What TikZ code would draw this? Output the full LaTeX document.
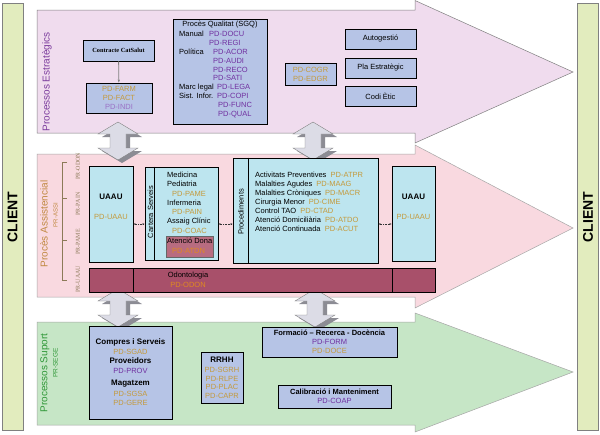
\documentclass[tikz,border=0pt]{standalone}
\usepackage{fontspec}
\setmainfont{Liberation Sans}
\setsansfont{Liberation Sans}
\newfontfamily\serifft{Liberation Serif}
\usetikzlibrary{arrows.meta,calc}
\definecolor{clientg}{HTML}{E2ECBE}
\definecolor{strat}{HTML}{F0DCEE}
\definecolor{assist}{HTML}{F9D9E0}
\definecolor{suport}{HTML}{C6E6C6}
\definecolor{bbox}{HTML}{B6C4E6}
\definecolor{cbox}{HTML}{BDE5EF}
\definecolor{maroonf}{HTML}{A8506A}
\definecolor{donaf}{HTML}{B86C80}
\definecolor{gold}{HTML}{C49A3C}
\definecolor{purp}{HTML}{7030A0}
\definecolor{lpurp}{HTML}{9A72C6}
\definecolor{orng}{HTML}{E08A20}
\definecolor{stxt}{HTML}{7A3A9C}
\definecolor{atxt}{HTML}{C08840}
\definecolor{gtxt}{HTML}{309838}
\definecolor{prtxt}{HTML}{8C7A58}
\definecolor{arrf}{HTML}{DCDCE6}
\definecolor{arrs}{HTML}{8C8C94}
\newcommand\tg[1]{\textcolor{gold}{#1}}
\newcommand\tp[1]{\textcolor{purp}{#1}}
\begin{document}
\begin{tikzpicture}[x=1pt,y=-1pt,
  every node/.style={inner sep=0pt, font=\fontsize{7.5}{9}\selectfont},
  blk/.style={draw=black, line width=0.9pt},
  bb/.style={blk, fill=bbox, align=center},
  cb/.style={blk, fill=cbox},
  big/.style={font=\fontsize{10}{12}\selectfont, rotate=90},
  prl/.style={font=\serifft\fontsize{6}{6}\selectfont, text=prtxt, rotate=90},
  bld/.style={font=\bfseries\fontsize{8}{9}\selectfont},
  link/.style={densely dotted, line width=0.6pt, black!80, {Stealth[length=2.2pt]}-{Stealth[length=2.2pt]}},
  dblarrow/.pic={
    \fill[arrs, shift={(4,3)}] (0,-19) -- (20,-7) -- (8,-7) -- (8,7) -- (20,7) -- (0,19) -- (-20,7) -- (-8,7) -- (-8,-7) -- (-20,-7) -- cycle;
    \filldraw[fill=arrf, draw=gray, line width=0.4pt] (0,-19) -- (20,-7) -- (8,-7) -- (8,7) -- (20,7) -- (0,19) -- (-20,7) -- (-8,7) -- (-8,-7) -- (-20,-7) -- cycle;
  }]
\useasboundingbox (0,0) rectangle (600,434);
\fill[white] (0,0) rectangle (600,434);

% CLIENT bars
\node[draw=gray, fill=clientg, minimum width=21pt, minimum height=427pt] (clL) at (12.5,216.5) {};
\node[draw=gray, fill=clientg, minimum width=21pt, minimum height=427pt] (clR) at (587.5,216.5) {};
\node[font=\bfseries\fontsize{14}{16}\selectfont, rotate=90] (clLt) at (12.5,217) {CLIENT};
\node[font=\bfseries\fontsize{14}{16}\selectfont, rotate=90] (clRt) at (588,217) {CLIENT};

% big arrows
\filldraw[fill=strat, draw=gray, line width=0.5pt] (37,10) -- (415,10) -- (415,0.5) -- (573,72) -- (415,143) -- (415,133) -- (37,133) -- cycle;
\filldraw[fill=assist, draw=gray!70, line width=0.5pt] (37,154) -- (415,154) -- (415,145) -- (573,228) -- (415,308) -- (415,297) -- (37,297) -- cycle;
\filldraw[fill=suport, draw=gray!70, line width=0.5pt] (37,322) -- (415,322) -- (415,313) -- (573,372) -- (415,432) -- (415,425) -- (37,425) -- cycle;

% side labels
\node[big, text=stxt] (lst) at (47,82) {Processos Estratègics};
\node[big, text=atxt] (las) at (44,224) {Procès Assistencial};
\node[font=\fontsize{6}{7}\selectfont, rotate=90, text=atxt] (lassi) at (55.5,215) {PR-ASSI};
\node[big, text=gtxt] (lsu) at (45,373) {Processos Suport};
\node[font=\fontsize{6.5}{7}\selectfont, rotate=90, text=gtxt] (lsege) at (55.5,363) {PR-SEGE};

% PR bracket
\draw[prtxt, line width=0.4pt] (67,162) -- (62,162) -- (62,280) -- (67,280)
  (62,198) -- (67,198) (62,240) -- (67,240);
\node[prl] (pr1) at (78,166) {PR-ODON};
\node[prl] (pr2) at (78,204) {PR-PAIN};
\node[prl] (pr3) at (78,242) {PR-PAME};
\node[prl] (pr4) at (78,279) {PR-UAAU};

% double arrows
\pic at (118,141) {dblarrow};
\pic at (313,141) {dblarrow};
\pic at (118,308) {dblarrow};
\pic at (315,308) {dblarrow};

% ---------- Strategic ----------
\node[bb, minimum width=71pt, minimum height=21pt, font=\serifft\bfseries\fontsize{6.3}{7}\selectfont] (contract) at (118.5,50.5) {Contracte CatSalut};
\node[bb, minimum width=66pt, minimum height=30pt] (farm) at (119,98) {\tg{PD-FARM}\\\tg{PD-FACT}\\\textcolor{lpurp}{PD-INDI}};
\draw[gray, line width=0.8pt, -{Stealth[length=3pt]}] (contract) -- (farm);

\node[bb, minimum width=94pt, minimum height=105pt] (sgq) at (220,71.5) {};
\node (sgqt) at (220,25) {Procès Qualitat (SGQ)};
\node[anchor=mid west] (m1) at (179,34) {Manual};
\node[anchor=mid west] (m2) at (179,52) {Política};
\node[anchor=mid west] (m3) at (179,87) {Marc legal};
\node[anchor=mid west] (m4) at (179,96) {Sist. Infor.};
\node[anchor=mid west] (c1) at (209,34) {\tp{PD-DOCU}};
\node[anchor=mid west] (c2) at (209,43) {\tp{PD-REGI}};
\node[anchor=mid west] (c3) at (213,52) {\tp{PD-ACOR}};
\node[anchor=mid west] (c4) at (213,60.5) {\tp{PD-AUDI}};
\node[anchor=mid west] (c5) at (213,69.5) {\tp{PD-RECO}};
\node[anchor=mid west] (c6) at (213,78) {\tp{PD-SATI}};
\node[anchor=mid west] (c7) at (217,87) {\tp{PD-LEGA}};
\node[anchor=mid west] (c8) at (217,96) {\tp{PD-COPI}};
\node[anchor=mid west] (c9) at (218,105) {\tp{PD-FUNC}};
\node[anchor=mid west] (c10) at (218,114) {\tp{PD-QUAL}};

\node[bb, minimum width=51pt, minimum height=22pt] (cogr) at (310.5,74) {\tg{PD-COGR}\\\tg{PD-EDGR}};
\node[bb, minimum width=71pt, minimum height=20pt] (auto) at (380.5,39) {Autogestió};
\node[bb, minimum width=71pt, minimum height=20pt] (pla) at (380.5,68) {Pla Estratègic};
\node[bb, minimum width=71pt, minimum height=20pt] (codi) at (380.5,96) {Codi Ètic};

% ---------- Assistencial ----------
\node[cb, minimum width=44pt, minimum height=96pt] (uaauL) at (111,214) {};
\node[bld] (uaauLt) at (111,197) {UAAU};
\node (uaauLc) at (111,217) {\tg{PD-UAAU}};

\node[cb, minimum width=73pt, minimum height=93pt] (cartera) at (181.5,213.5) {};
\draw[blk] ($(cartera.north west)+(10,0)$) -- ($(cartera.south west)+(10,0)$);
\node[rotate=90] (cartt) at (150.5,212) {Cartera Serveis};
\node[fill=donaf, draw=black!60, line width=0.4pt, minimum width=47pt, minimum height=21pt] (dona) at (189.5,246.5) {};
\node[anchor=mid west] (k1) at (167,175) {Medicina};
\node[anchor=mid west] (k2) at (167,184) {Pediatria};
\node[anchor=mid west] (k3) at (172,193.5) {\tg{PD-PAME}};
\node[anchor=mid west] (k4) at (167,203) {Infermeria};
\node[anchor=mid west] (k5) at (172,212) {\tg{PD-PAIN}};
\node[anchor=mid west] (k6) at (167,221) {Assaig Clínic};
\node[anchor=mid west] (k7) at (172,230.5) {\tg{PD-COAC}};
\node[anchor=mid west] (k8) at (167,241) {Atenció Dona};
\node[anchor=mid west] (k9) at (172,251) {\textcolor{orng}{PD-ATDN}};

\node[cb, minimum width=145pt, minimum height=105pt] (procs) at (305.5,210.5) {};
\draw[blk] ($(procs.north west)+(16,0)$) -- ($(procs.south west)+(16,0)$);
\node[rotate=90] (proct) at (241,212) {Procediments};
\node[anchor=mid west] (p1) at (255,175) {Activitats Preventives~ \tg{PD-ATPR}};
\node[anchor=mid west] (p2) at (255,184) {Malalties Agudes~ \tg{PD-MAAG}};
\node[anchor=mid west] (p3) at (255,193) {Malalties Cròniques~ \tg{PD-MACR}};
\node[anchor=mid west] (p4) at (255,202) {Cirurgia Menor~ \tg{PD-CIME}};
\node[anchor=mid west] (p5) at (255,211) {Control TAO~ \tg{PD-CTAD}};
\node[anchor=mid west] (p6) at (255,220) {Atenció Domiciliària~ \tg{PD-ATDO}};
\node[anchor=mid west] (p7) at (255,229) {Atenció Continuada~ \tg{PD-ACUT}};

\node[cb, minimum width=43pt, minimum height=95pt] (uaauR) at (413.5,213.5) {};
\node[bld] (uaauRt) at (413.5,197) {UAAU};
\node (uaauRc) at (413.5,217) {\tg{PD-UAAU}};

\draw[link] ([yshift=-10pt]uaauL.east) -- ([yshift=-10pt]uaauL.east -| cartera.west);
\draw[link] ([yshift=-10pt]uaauL.east -| cartera.east) -- ([yshift=-10pt]uaauL.east -| procs.west);
\draw[link] ([yshift=-10pt]uaauL.east -| procs.east) -- ([yshift=-10pt]uaauL.east -| uaauR.west);

\node[blk, fill=maroonf, minimum width=346pt, minimum height=24pt] (odon) at (262,280) {};
\draw[blk] (133,268) -- (133,292) (392,268) -- (392,292);
\node (odt) at (188,276) {Odontologia};
\node (odc) at (188,285) {\textcolor{orng}{PD-ODON}};

% ---------- Suport ----------
\node[bb, minimum width=83pt, minimum height=93pt] (compres) at (130.5,372.5) {};
\node[bld] (s1) at (130.5,342) {Compres i Serveis};
\node (s2) at (130.5,351.5) {\tg{PD-SGAD}};
\node[bld] (s3) at (130.5,361) {Proveidors};
\node (s4) at (130.5,370.5) {\tp{PD-PROV}};
\node[bld] (s5) at (130.5,384) {Magatzem};
\node (s6) at (130.5,393.5) {\tg{PD-SGSA}};
\node (s7) at (130.5,402.5) {\tg{PD-GERE}};

\node[bb, minimum width=42pt, minimum height=51pt] (rrhh) at (222,377.5) {};
\node[bld] (r1) at (222,360) {RRHH};
\node (r2) at (222,370) {\tg{PD-SGRH}};
\node (r3) at (222,378.5) {\tg{PD-RLPE}};
\node (r4) at (222,387) {\tg{PD-PLAC}};
\node (r5) at (222,395.5) {\tg{PD-CAPR}};

\node[bb, minimum width=135pt, minimum height=30pt] (form) at (329.5,342) {\textbf{Formació – Recerca - Docència}\\\tp{PD-FORM}\\\tg{PD-DOCE}};
\node[bb, minimum width=113pt, minimum height=23pt] (calib) at (334.5,396.5) {\textbf{Calibració i Manteniment}\\\tp{PD-COAP}};
\end{tikzpicture}
\end{document}
